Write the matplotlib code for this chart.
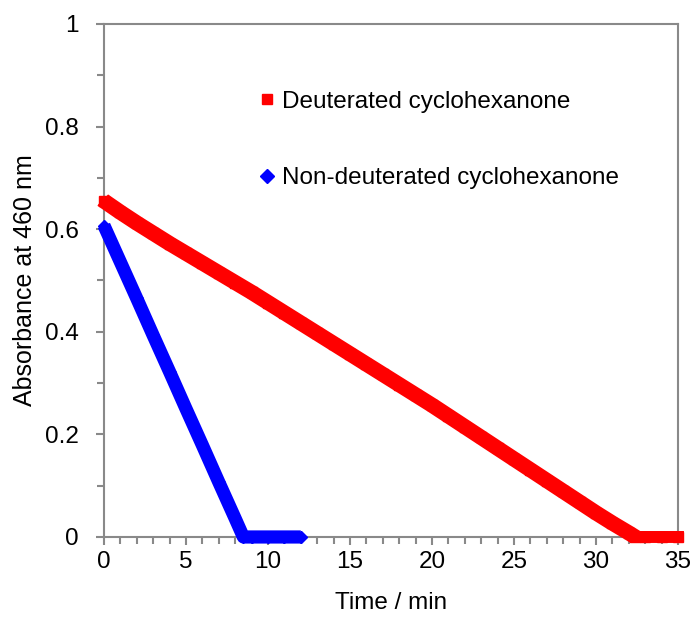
import matplotlib
matplotlib.use("Agg")
import matplotlib.pyplot as plt
import matplotlib.patheffects as pe
import numpy as np
from matplotlib.ticker import MultipleLocator

plt.rcParams['font.family'] = ['Liberation Sans', 'DejaVu Sans']

# data (time in min, absorbance at 460 nm)
t_deut = [0, 1, 2, 3, 4, 5, 6, 7, 8, 9, 10, 11, 12, 13, 14, 15, 16, 17,
          18, 19, 20, 21, 22, 23, 24, 25, 26, 27, 28, 29, 30, 31, 32, 32.4,
          33, 34, 35]
a_deut = [0.655, 0.633, 0.612, 0.592, 0.572, 0.553, 0.534, 0.515, 0.496,
          0.477, 0.457, 0.437, 0.417, 0.397, 0.377, 0.357, 0.337, 0.317,
          0.297, 0.277, 0.257, 0.236, 0.215, 0.194, 0.173, 0.152, 0.131,
          0.110, 0.089, 0.068, 0.047, 0.027, 0.008, 0.0, 0.0, 0.0, 0.0]

t_non = [0, 1, 2, 3, 4, 5, 6, 7, 8, 8.5, 9, 10, 11, 12]
a_non = [0.607, 0.536, 0.465, 0.393, 0.322, 0.250, 0.179, 0.107, 0.036,
         0.0, 0.0, 0.0, 0.0, 0.0]

red = '#FF0000'
blue = '#0000FF'
axis_grey = '#898989'
fs = 17.5

fig = plt.figure(figsize=(6.95, 6.21), dpi=100)
ax = fig.add_axes([0.1496, 0.1353, 0.8259, 0.8261])

# dense marker band: red squares swept along the curve
band = ax.plot(t_deut, a_deut, color=red, lw=2, solid_joinstyle='round',
               clip_on=False)[0]
band.set_path_effects([pe.Stroke(offset=(d, d), linewidth=2.2, foreground=red)
                       for d in np.linspace(-3.2, 3.2, 11)])
ax.plot(t_deut, a_deut, ls='none', marker='s', ms=7, color=red,
        clip_on=False, label='Deuterated cyclohexanone')

# blue diamonds
ax.plot(t_non, a_non, color=blue, lw=9.5, solid_joinstyle='round',
        solid_capstyle='butt', clip_on=False)
ax.plot(t_non, a_non, ls='none', marker='D', ms=5.8, color=blue,
        clip_on=False, label='Non-deuterated cyclohexanone')

ax.set_xlim(0, 35)
ax.set_ylim(0, 1)
ax.xaxis.set_major_locator(MultipleLocator(5))
ax.xaxis.set_minor_locator(MultipleLocator(1))
ax.yaxis.set_minor_locator(MultipleLocator(0.1))
ax.set_yticks([0, 0.2, 0.4, 0.6, 0.8, 1])
ax.set_yticklabels(['0', '0.2', '0.4', '0.6', '0.8', '1'])

for s in ax.spines.values():
    s.set_color(axis_grey)
    s.set_linewidth(1.5)
    s.set_zorder(0.5)
ax.tick_params(which='both', direction='out', color=axis_grey, width=1.5,
               labelsize=fs)
ax.tick_params(which='major', length=6)
ax.tick_params(which='minor', length=5)
ax.tick_params(axis='y', pad=12)
ax.tick_params(axis='x', pad=4)

ax.set_xlabel('Time / min', fontsize=fs, labelpad=14)
ax.set_ylabel('Absorbance at 460 nm', fontsize=18, labelpad=6)

leg = ax.legend(loc='upper left', bbox_to_anchor=(0.255, 0.889),
                frameon=False, fontsize=fs, labelspacing=2.25,
                handlelength=0.6, handletextpad=0.3, borderaxespad=0)
leg.legend_handles[1].set_markersize(6.8)

fig.savefig('out.png', dpi=100)
